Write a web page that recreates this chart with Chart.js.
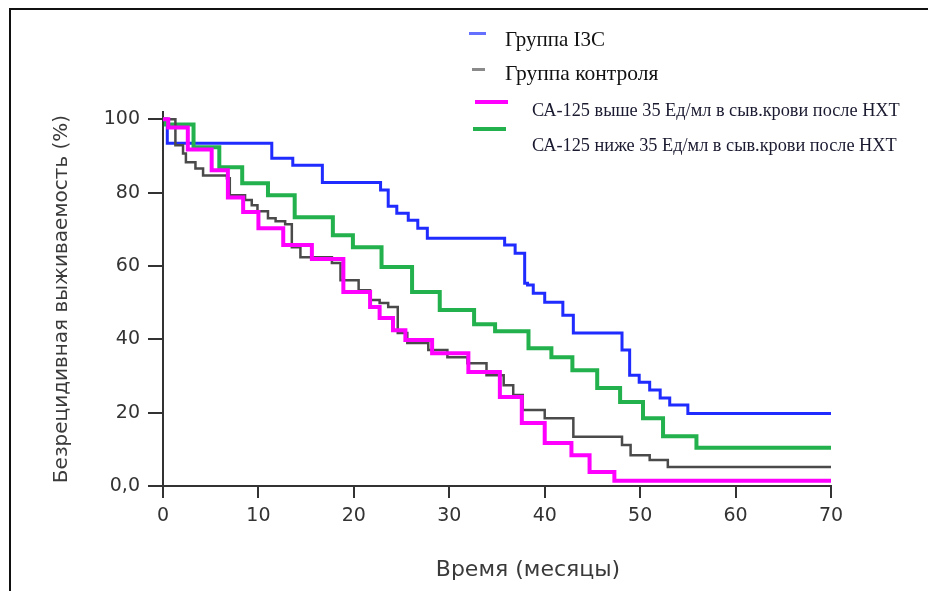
<!DOCTYPE html>
<html>
<head>
<meta charset="utf-8">
<script src="https://cdn.jsdelivr.net/npm/chart.js@4.4.1/dist/chart.umd.min.js"></script>
<style>
	html, body { margin: 0; padding: 0; background: #fff; }
	#wrap { position: relative; width: 928px; height: 591px; overflow: hidden; }
	#frame { position: absolute; left: 9px; top: 8px; right: -4px; bottom: -4px; border-top: 2px solid #111; border-left: 2px solid #111; }
	#c { position: absolute; left: 0; top: 0; }
	.lg-line { position: absolute; height: 3px; }
	.lg-text { position: absolute; font-family: "Liberation Serif", serif; color: #111; white-space: nowrap; }
</style>
</head>
<body>
<div id="wrap">
	<div id="frame"></div>
	<canvas id="c" width="928" height="591"></canvas>
	<div class="lg-line" style="left:469px;top:32px;width:17px;background:#6570ff"></div>
	<div class="lg-text" style="left:505px;top:27px;font-size:21px">Группа I3C</div>
	<div class="lg-line" style="left:472px;top:68px;width:13px;background:#8a8a8a"></div>
	<div class="lg-text" style="left:505px;top:61px;font-size:21.5px">Группа контроля</div>
	<div class="lg-line" style="left:475px;top:100px;width:33px;height:4px;background:#ff00ff"></div>
	<div class="lg-text" style="left:532px;top:100px;font-size:18.3px;color:#1a1a30">СА-125 выше 35 Ед/мл в сыв.крови после НХТ</div>
	<div class="lg-line" style="left:473px;top:127px;width:33px;height:4px;background:#22b14c"></div>
	<div class="lg-text" style="left:532px;top:135px;font-size:18.3px;color:#1a1a30">СА-125 ниже 35 Ед/мл в сыв.крови после НХТ</div>
</div>
<script>
// Kaplan-Meier curves: time of each step (months) and survival after it (%)
const i3cTime = [0, 0.45, 11.4, 13.6, 16.7, 22.8, 23.6, 24.5, 25.7, 26.7, 27.7, 35.8, 36.9, 37.9, 38.2, 38.8, 40.0, 41.9, 43.0, 48.1, 48.9, 49.9, 51.0, 52.1, 53.1, 55.0, 70];
const i3cSurv = [100, 93.5, 89.4, 87.5, 82.8, 80.7, 76.3, 74.4, 72.5, 70.3, 67.6, 65.7, 63.5, 55.3, 54.8, 52.6, 50.1, 46.6, 41.7, 37.1, 30.2, 28.3, 26.2, 24.0, 22.1, 19.8, 19.8];

const ctrlTime = [0, 1.3, 2.1, 2.4, 3.4, 4.2, 6.7, 7.0, 8.6, 9.3, 9.9, 11.0, 11.8, 12.8, 13.5, 14.4, 17.7, 18.6, 20.5, 21.7, 22.7, 23.6, 24.6, 25.6, 27.8, 29.8, 31.9, 33.9, 35.7, 36.7, 37.7, 40.0, 43.0, 48.1, 49.0, 51.0, 52.9, 70];
const ctrlSurv = [100, 92.9, 90.7, 88.3, 86.6, 84.7, 83.9, 79.3, 78.0, 76.6, 74.9, 73.0, 72.2, 71.4, 65.1, 62.4, 60.8, 56.1, 53.4, 50.7, 49.9, 48.8, 41.7, 39.0, 37.1, 35.1, 33.5, 30.2, 27.5, 24.8, 20.7, 18.5, 13.4, 11.2, 8.4, 7.1, 5.2, 5.2];

const highTime = [0, 0.55, 2.6, 5.1, 6.8, 8.4, 10.0, 12.6, 15.6, 18.9, 21.7, 22.7, 24.1, 25.4, 28.2, 32.0, 35.3, 37.6, 40.0, 42.8, 44.7, 47.3, 70];
const highSurv = [100, 97.8, 91.8, 86.1, 78.7, 74.7, 70.3, 65.7, 61.9, 52.9, 48.8, 45.8, 42.5, 39.8, 36.2, 31.1, 24.3, 17.2, 11.7, 8.4, 3.8, 1.4, 1.4];

const lowTime = [0, 0.3, 3.2, 5.9, 8.3, 11.0, 13.8, 17.8, 19.9, 22.9, 26.1, 29.0, 32.6, 34.8, 38.3, 40.7, 42.9, 45.5, 47.9, 50.3, 52.4, 55.9, 70];
const lowSurv = [100, 98.6, 92.4, 86.9, 82.6, 79.3, 73.3, 68.4, 65.1, 59.7, 52.9, 48.0, 44.1, 42.2, 37.6, 35.1, 31.6, 26.7, 22.9, 18.5, 13.6, 10.4, 10.4];

const xTicks = [0, 10, 20, 30, 40, 50, 60, 70];
const yTicks = [0, 20, 40, 60, 80, 100];

const toPoints = (t, s) => t.map((x, i) => ({ x: x, y: s[i] }));

const axisFont = { family: 'DejaVu Sans', size: 19 };

const xTitle = {
	id: 'xTitle',
	afterDraw(chart) {
		const ctx = chart.ctx;
		ctx.save();
		ctx.font = '22px "DejaVu Sans"';
		ctx.fillStyle = '#3a3a3a';
		ctx.textAlign = 'center';
		ctx.textBaseline = 'middle';
		ctx.fillText('Время (месяцы)', 528, 570);
		ctx.restore();
	}
};

new Chart(document.getElementById('c'), {
	type: 'line',
	data: {
		datasets: [
			{ label: 'СА-125 выше 35 Ед/мл в сыв.крови после НХТ', data: toPoints(highTime, highSurv), borderColor: '#ff00ff', borderWidth: 4, order: 1 },
			{ label: 'Группа контроля', data: toPoints(ctrlTime, ctrlSurv), borderColor: '#4a4a4a', borderWidth: 2.5, order: 2 },
			{ label: 'СА-125 ниже 35 Ед/мл в сыв.крови после НХТ', data: toPoints(lowTime, lowSurv), borderColor: '#22b14c', borderWidth: 4, order: 3 },
			{ label: 'Группа I3C', data: toPoints(i3cTime, i3cSurv), borderColor: '#1f2bff', borderWidth: 3, order: 4 }
		]
	},
	options: {
		responsive: false,
		animation: false,
		events: [],
		layout: { padding: { left: 0, top: 112, right: 97, bottom: 0 } },
		elements: {
			line: { stepped: 'before', tension: 0, fill: false },
			point: { radius: 0 }
		},
		plugins: { legend: { display: false }, tooltip: { enabled: false } },
		scales: {
			x: {
				type: 'linear', min: 0, max: 70,
				afterFit(scale) { scale.height = 105; },
				afterBuildTicks(scale) { scale.ticks = xTicks.map(v => ({ value: v })); },
				grid: { drawOnChartArea: false, drawTicks: true, tickLength: 12, color: '#333', lineWidth: 2 },
				border: { color: '#333', width: 2 },
				ticks: { maxRotation: 0, padding: 7, color: '#333', font: axisFont }
			},
			y: {
				min: 0, max: 102,
				afterFit(scale) { scale.width = 163; },
				afterBuildTicks(scale) { scale.ticks = yTicks.map(v => ({ value: v })); },
				grid: { drawOnChartArea: false, drawTicks: true, tickLength: 15, color: '#333', lineWidth: 2 },
				border: { color: '#333', width: 2 },
				ticks: { padding: 8, color: '#333', font: axisFont, callback: v => v === 0 ? '0,0' : v },
				title: { display: true, text: 'Безрецидивная выживаемость (%)', color: '#3a3a3a', font: { family: 'DejaVu Sans', size: 20 }, padding: { top: 50, bottom: 0 } }
			}
		}
	},
	plugins: [xTitle]
});
</script>
</body>
</html>
